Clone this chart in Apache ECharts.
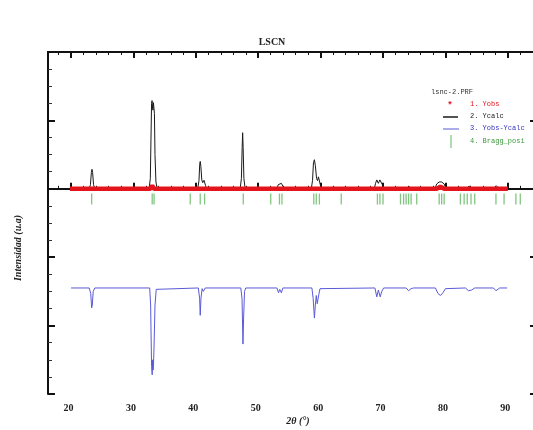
<!DOCTYPE html>
<html>
<head>
<meta charset="utf-8">
<script src="https://cdn.jsdelivr.net/npm/echarts@6/dist/echarts.min.js"></script>
<style>
html,body{margin:0;padding:0;background:#fff;}
#chart{width:533px;height:430px;}
</style>
</head>
<body>
<div id="chart"></div>
<script>
// ---- data ----
const titleText = 'LSCN';
const xTickLabels = [20, 30, 40, 50, 60, 70, 80, 90];
const xMinorTicks = [18,22,24,26,28,32,34,36,38,42,44,46,48,52,54,56,58,62,64,66,68,72,74,76,78,82,84,86,88,92,94];

// Yobs (observed, nearly flat red band)
const yobs = [[19.8,0],[23.1,0],[23.3,20],[23.5,0],[32.7,0],[33.0,45],[33.3,0],[40.5,0],[40.7,15],[40.9,0],
  [47.3,0],[47.5,15],[47.7,0],[58.8,0],[59.0,15],[59.2,0],[78.6,0],[79.2,30],[79.8,0],[90.0,0]];

// Ycalc (calculated profile)
const ycalc = [[19.8,0],[22.9,0],[23.1,60],[23.25,240],[23.35,285],[23.45,240],[23.6,60],[23.8,0],
  [32.5,0],[32.7,150],[32.8,700],[32.9,1250],[32.98,1290],[33.06,1180],[33.12,1150],[33.2,1260],[33.28,1270],[33.36,1100],[33.45,500],[33.6,100],[33.8,0],
  [40.3,0],[40.5,120],[40.62,360],[40.7,400],[40.8,330],[40.95,130],[41.1,90],[41.3,125],[41.4,120],[41.55,50],[41.7,0],
  [47.1,0],[47.3,150],[47.42,600],[47.5,820],[47.58,600],[47.7,150],[47.9,0],
  [53.0,0],[53.2,60],[53.3,80],[53.5,50],[53.7,80],[53.8,75],[54.0,30],[54.2,0],
  [58.5,0],[58.7,120],[58.85,380],[59.0,425],[59.15,340],[59.35,150],[59.5,120],[59.65,175],[59.8,150],[60.0,40],[60.2,0],
  [68.6,0],[68.8,80],[69.0,130],[69.25,80],[69.5,130],[69.7,130],[69.95,50],[70.2,0],
  [73.8,0],[74.2,30],[74.6,0],
  [78.3,0],[78.6,70],[79.0,100],[79.4,100],[79.8,70],[80.1,0],
  [83.3,0],[83.8,40],[84.3,0],
  [87.7,0],[88.2,40],[88.7,0],
  [90.0,0]];

// Yobs - Ycalc (difference, offset below)
const ydiff = [[20.0,-1450],[22.9,-1450],[23.15,-1530],[23.3,-1740],[23.4,-1700],[23.55,-1500],[23.8,-1450],
  [32.6,-1450],[32.75,-1700],[32.9,-2600],[33.0,-2720],[33.08,-2500],[33.15,-2650],[33.2,-2600],[33.3,-2300],[33.45,-1700],[33.65,-1470],[33.8,-1450],
  [40.4,-1450],[40.6,-1600],[40.7,-1850],[40.82,-1600],[41.0,-1460],[41.2,-1500],[41.35,-1480],[41.5,-1450],
  [47.2,-1450],[47.4,-1600],[47.55,-2270],[47.65,-1900],[47.8,-1500],[48.0,-1450],
  [53.0,-1450],[53.25,-1520],[53.45,-1470],[53.7,-1520],[53.95,-1450],
  [58.6,-1450],[58.8,-1600],[59.0,-1890],[59.15,-1700],[59.3,-1560],[59.45,-1680],[59.7,-1550],[59.9,-1460],[60.1,-1450],
  [68.7,-1450],[69.0,-1580],[69.25,-1480],[69.55,-1580],[69.8,-1500],[70.1,-1450],
  [73.7,-1450],[74.1,-1490],[74.5,-1460],[74.9,-1450],
  [78.4,-1450],[78.8,-1530],[79.2,-1560],[79.6,-1520],[80.0,-1460],[80.3,-1450],
  [83.2,-1450],[83.7,-1490],[84.2,-1480],[84.7,-1450],
  [87.7,-1450],[88.1,-1490],[88.4,-1480],[88.7,-1450],
  [89.9,-1450]];

// Bragg reflection positions (2θ)
const braggPos = [23.3, 33.0, 33.3, 39.1, 40.7, 41.4, 47.6, 52.0, 53.4, 53.8, 58.9, 59.3, 59.8, 63.3,
  69.1, 69.5, 70.0, 72.8, 73.3, 73.7, 74.1, 74.5, 75.4, 79.0, 79.4, 79.8, 82.4, 83.0, 83.5, 84.1, 84.7,
  88.1, 89.4, 91.3, 92.0];
const braggLevel = -150;

const legendFile = 'lsnc-2.PRF';
const legendNames = ['1. Yobs', '2. Ycalc', '3. Yobs-Ycalc', '4. Bragg_posi'];

// ---- chart ----
const XMIN = 16.3, XMAX = 94.68;
const serif = '"Liberation Serif", "DejaVu Serif", serif';
const mono = '"Liberation Mono", "DejaVu Sans Mono", monospace';
const red = '#e3141c', black = '#1a1a1a', blue = '#5a5ad8', green = '#62b862';

const axisLine = { show: true, lineStyle: { color: '#111', width: 2 } };
function xAx(pos, custom, len, labels) {
  return {
    type: 'value', position: pos, min: XMIN, max: XMAX,
    axisLine: axisLine,
    axisTick: { show: true, inside: true, length: len, customValues: custom, lineStyle: { color: '#111', width: len > 4 ? 2 : 1 } },
    axisLabel: labels ? { show: true, customValues: xTickLabels, fontFamily: serif, fontWeight: 'bold', fontSize: 10, color: '#222', margin: 9, padding: [0, 5, 0, 0] } : { show: false },
    splitLine: { show: false }
  };
}
function yAx(pos) {
  return {
    type: 'value', position: pos, min: -3000, max: 2000, interval: 1000,
    axisLine: axisLine,
    axisTick: { show: true, inside: true, length: 7, lineStyle: { color: '#111', width: 2 } },
    minorTick: { show: true, splitNumber: 4, length: 4, lineStyle: { color: '#333', width: 1 } },
    axisLabel: { show: false },
    splitLine: { show: false }, minorSplitLine: { show: false }
  };
}

const chart = echarts.init(document.getElementById('chart'), null, { renderer: 'canvas' });
chart.setOption({
  animation: false,
  backgroundColor: '#fff',
  title: { text: titleText, left: 272, top: 37, padding: 0, textAlign: 'center',
    textStyle: { fontFamily: serif, fontWeight: 'bold', fontSize: 10, color: '#222' } },
  grid: { left: 48, top: 52, width: 489, height: 342, containLabel: false, outerBoundsMode: 'none' },
  xAxis: [
    xAx('bottom', xTickLabels, 6, true),
    xAx('bottom', xMinorTicks, 3, false),
    xAx('top', xTickLabels, 6, false),
    xAx('top', xMinorTicks, 3, false)
  ],
  yAxis: [yAx('left'), yAx('right')],
  series: [
    { name: 'Ycalc', type: 'line', data: ycalc, symbol: 'none', lineStyle: { color: black, width: 1 }, z: 3 },
    { name: 'Yobs', type: 'line', data: yobs, symbol: 'none', lineStyle: { color: red, width: 4.5 }, z: 4 },
    { name: 'Yobs-Ycalc', type: 'line', data: ydiff, symbol: 'none', lineStyle: { color: blue, width: 1 }, z: 3 },
    { name: 'Bragg_posi', type: 'scatter', data: braggPos.map(v => [v, braggLevel]), symbol: 'rect', symbolSize: [1.3, 11],
      itemStyle: { color: green }, z: 2 }
  ],
  graphic: [
    { type: 'text', x: 18, y: 248, rotation: Math.PI / 2,
      style: { text: 'Intensidad (u.a)', fontFamily: serif, fontStyle: 'italic', fontWeight: 'bold', fontSize: 10, fill: '#222', align: 'center', verticalAlign: 'middle' } },
    { type: 'text', x: 298, y: 421,
      style: { text: '2θ (°)', fontFamily: serif, fontStyle: 'italic', fontWeight: 'bold', fontSize: 10, fill: '#222', align: 'center', verticalAlign: 'middle' } },
    { type: 'text', x: 431, y: 92, style: { text: legendFile, fontFamily: mono, fontSize: 7, fill: '#333', verticalAlign: 'middle' } },
    { type: 'text', x: 450, y: 106, style: { text: '*', fontFamily: mono, fontWeight: 'bold', fontSize: 9, fill: red, align: 'center', verticalAlign: 'middle' } },
    { type: 'text', x: 470, y: 104, style: { text: legendNames[0], fontFamily: mono, fontSize: 7, fill: red, verticalAlign: 'middle' } },
    { type: 'line', shape: { x1: 443, y1: 117, x2: 458, y2: 117 }, style: { stroke: black, lineWidth: 1.5 } },
    { type: 'text', x: 470, y: 116, style: { text: legendNames[1], fontFamily: mono, fontSize: 7, fill: '#222', verticalAlign: 'middle' } },
    { type: 'line', shape: { x1: 443, y1: 129, x2: 459, y2: 129 }, style: { stroke: blue, lineWidth: 1 } },
    { type: 'text', x: 470, y: 128, style: { text: legendNames[2], fontFamily: mono, fontSize: 7, fill: '#3333bb', verticalAlign: 'middle' } },
    { type: 'line', shape: { x1: 451, y1: 135, x2: 451, y2: 148 }, style: { stroke: green, lineWidth: 1 } },
    { type: 'text', x: 470, y: 141, style: { text: legendNames[3], fontFamily: mono, fontSize: 7, fill: '#3a9a3a', verticalAlign: 'middle' } }
  ]
});
</script>
</body>
</html>
